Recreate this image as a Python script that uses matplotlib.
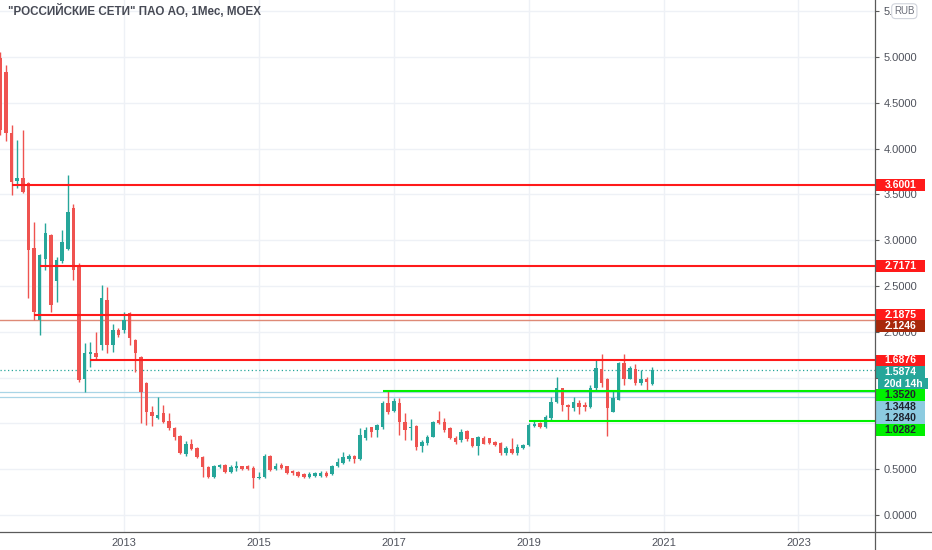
import numpy as np
import pandas as pd
import matplotlib
matplotlib.use("Agg")
import matplotlib.pyplot as plt
import matplotlib.transforms as mtransforms
from matplotlib.lines import Line2D
from matplotlib.patches import Rectangle

plt.rcParams['font.family'] = ['Liberation Sans', 'DejaVu Sans']

# monthly candles, Mar 2011 .. Nov 2020
months = pd.date_range("2011-03-01", "2020-11-01", freq="MS")
opens = [4.99, 4.84, 4.17, 3.65, 3.68, 3.62, 2.91, 2.13, 2.80, 3.06,
         2.55, 2.77, 2.90, 3.35, 2.73, 1.49, 1.76, 1.77, 1.856, 2.35, 1.856, 2.02,
         2.02, 2.21, 1.91, 1.73, 1.44, 1.125, 1.06, 1.11, 1.03, 0.95, 0.86, 0.67,
         0.775, 0.73, 0.63, 0.525, 0.41, 0.52, 0.545, 0.47, 0.51, 0.53, 0.53, 0.51,
         0.40, 0.41, 0.645, 0.50, 0.545, 0.53, 0.48, 0.47, 0.45, 0.42, 0.43, 0.43,
         0.46, 0.45, 0.53, 0.57, 0.61, 0.64, 0.61, 0.84, 0.96, 0.93, 0.96, 1.22,
         1.14, 1.22, 1.02, 0.95, 0.97, 0.75, 0.79, 0.855, 1.035, 1.02, 0.95, 0.84,
         0.82, 0.917, 0.837, 0.753, 0.845, 0.837, 0.80, 0.79, 0.68, 0.725, 0.675, 0.73,
         0.765, 0.975, 1.00, 0.965, 1.055, 1.237, 1.383, 1.20, 1.165, 1.226, 1.20, 1.183,
         1.383, 1.59, 1.49, 1.128, 1.255, 1.656, 1.49, 1.59, 1.445, 1.49, 1.43]
highs = [5.05, 4.91, 4.26, 4.09, 4.20, 3.64, 3.20, 2.85, 3.19, 3.07,
         2.82, 3.11, 3.71, 3.40, 2.75, 1.875, 1.89, 2.00, 2.51, 2.49, 2.09, 2.04,
         2.22, 2.22, 1.92, 1.74, 1.45, 1.19, 1.29, 1.20, 1.11, 0.96, 0.87, 0.81,
         0.83, 0.74, 0.64, 0.53, 0.545, 0.56, 0.56, 0.55, 0.59, 0.54, 0.55, 0.53,
         0.47, 0.67, 0.66, 0.57, 0.57, 0.535, 0.49, 0.48, 0.455, 0.47, 0.47, 0.48,
         0.48, 0.545, 0.62, 0.69, 0.67, 0.65, 0.95, 0.965, 0.96, 0.99, 1.24, 1.35,
         1.28, 1.28, 1.11, 1.05, 0.98, 0.82, 0.875, 1.03, 1.13, 1.06, 0.96, 0.86,
         0.935, 0.925, 0.84, 0.86, 0.86, 0.845, 0.81, 0.795, 0.75, 0.84, 0.77, 0.78,
         1.00, 1.04, 1.01, 1.09, 1.29, 1.51, 1.39, 1.21, 1.29, 1.26, 1.23, 1.42,
         1.70, 1.757, 1.50, 1.365, 1.665, 1.757, 1.627, 1.65, 1.58, 1.51, 1.62]
lows = [4.15, 4.08, 3.49, 3.57, 3.51, 2.37, 2.13, 1.97, 2.67, 2.22,
        2.33, 2.75, 2.89, 2.565, 1.45, 1.345, 1.62, 1.69, 1.80, 1.77, 1.78, 1.94,
        1.99, 1.86, 1.565, 1.00, 0.98, 0.97, 1.05, 1.00, 0.93, 0.82, 0.67, 0.645,
        0.71, 0.62, 0.41, 0.40, 0.40, 0.51, 0.46, 0.46, 0.48, 0.49, 0.49, 0.29,
        0.39, 0.40, 0.48, 0.49, 0.50, 0.45, 0.44, 0.41, 0.40, 0.40, 0.42, 0.41,
        0.42, 0.44, 0.52, 0.56, 0.59, 0.57, 0.60, 0.82, 0.85, 0.855, 0.94, 1.105,
        1.12, 0.87, 0.82, 0.82, 0.71, 0.69, 0.76, 0.85, 0.99, 0.91, 0.83, 0.78,
        0.80, 0.81, 0.74, 0.655, 0.77, 0.78, 0.75, 0.655, 0.655, 0.665, 0.66, 0.72,
        0.75, 0.96, 0.95, 0.95, 1.04, 1.22, 1.14, 1.04, 1.14, 1.10, 1.14, 1.165,
        1.37, 1.40, 0.86, 1.12, 1.25, 1.42, 1.48, 1.42, 1.42, 1.357, 1.42]
closes = [4.20, 4.17, 3.64, 3.68, 3.53, 2.89, 2.22, 2.84, 3.08, 2.29,
          2.78, 2.98, 3.31, 2.67, 1.47, 1.765, 1.78, 1.72, 2.366, 1.856, 2.02, 1.965,
          2.13, 1.93, 1.765, 1.345, 1.125, 1.08, 1.09, 1.02, 0.95, 0.85, 0.68, 0.775,
          0.72, 0.63, 0.52, 0.41, 0.54, 0.545, 0.47, 0.52, 0.53, 0.50, 0.50, 0.40,
          0.42, 0.64, 0.49, 0.53, 0.51, 0.46, 0.46, 0.43, 0.42, 0.45, 0.46, 0.46,
          0.43, 0.535, 0.58, 0.63, 0.645, 0.61, 0.875, 0.93, 0.905, 0.98, 1.22, 1.125,
          1.24, 1.01, 0.93, 0.965, 0.745, 0.80, 0.855, 1.02, 1.00, 0.93, 0.84, 0.80,
          0.91, 0.826, 0.753, 0.855, 0.78, 0.79, 0.765, 0.675, 0.73, 0.675, 0.745, 0.765,
          0.98, 0.99, 0.96, 1.067, 1.237, 1.383, 1.20, 1.18, 1.237, 1.18, 1.183, 1.383,
          1.60, 1.44, 1.165, 1.274, 1.656, 1.49, 1.60, 1.445, 1.48, 1.455, 1.5874]

# drawn levels
red_levels = [3.6001, 2.7171, 2.1875, 1.6876]
red_starts = ["2011-05", "2011-10", "2011-09", "2012-07"]
green_levels = [1.3520, 1.0282]
green_starts = ["2016-11", "2019-01"]
blue_levels = [1.3448, 1.2840]
brown_level = 2.1246
countdown = "20d 14h"

title = '"РОССИЙСКИЕ СЕТИ" ПАО АО, 1Мес, MOEX'
year_ticks = [2013, 2015, 2017, 2019, 2021, 2023]

UP = "#26a69a"
DOWN = "#ef5350"
RED = "#ff1a1a"
LIME = "#00f000"
LBLUE = "#8ccbe0"
BROWN = "#a8290b"
GRID = "#eef1f6"
AX = "#5a5a5a"


def to_year(d):
    d = pd.Timestamp(d)
    return d.year + (d.month - 1) / 12.0


x = np.array([to_year(d) for d in months])
o = np.array(opens); h = np.array(highs); l = np.array(lows); c = np.array(closes)
up = c >= o
cols = np.where(up, UP, DOWN)

fig = plt.figure(figsize=(9.32, 5.5), dpi=100, facecolor="w")
ax = fig.add_axes([0, 18 / 550, 875 / 932, 532 / 550])
x0, x1 = 2011.161, 2024.136
ax.set_xlim(x0, x1)
ax.set_ylim(-0.1856, 5.622)

# candles
ax.vlines(x, l, h, colors=cols, lw=1.0, zorder=3)
body_lo = np.minimum(o, c)
body_h = np.maximum(np.abs(c - o), 0.012)
ax.bar(x, body_h, bottom=body_lo, width=0.62 / 12, color=cols, linewidth=0, zorder=4)

# horizontal levels
for lv, st in zip(red_levels, red_starts):
    ax.hlines(lv, to_year(st), x1, colors=RED, lw=1.5, zorder=5)
for lv, st in zip(green_levels, green_starts):
    ax.hlines(lv, to_year(st), x1, colors=LIME, lw=1.5, zorder=5)
for lv in blue_levels:
    ax.axhline(lv, color="#a9d5e6", lw=0.9, zorder=2)
ax.axhline(brown_level, color="#de8a76", lw=1.0, zorder=2)
ax.axhline(closes[-1], color=UP, lw=0.9, ls=(0, (1, 2)), zorder=2)

# grid / ticks
ax.set_yticks(np.arange(0, 5.51, 0.5))
ax.yaxis.set_major_formatter(plt.FormatStrFormatter("%.4f"))
ax.set_xticks(year_ticks)
ax.set_xticklabels([str(t) for t in year_ticks])
ax.yaxis.tick_right()
ax.tick_params(axis="y", length=3, width=0.8, color=AX, pad=3, labelsize=8, labelcolor="#4f525c")
ax.tick_params(axis="x", length=0, pad=4, labelsize=8, labelcolor="#4f525c")
ax.grid(True, color=GRID, lw=1.0)
for s in ax.spines.values():
    s.set_visible(False)

fig.add_artist(Line2D([0, 1], [18 / 550, 18 / 550], transform=fig.transFigure, color=AX, lw=0.9))
fig.add_artist(Line2D([875 / 932, 875 / 932], [0, 1], transform=fig.transFigure, color=AX, lw=0.9))

# price labels on the scale
labels = [(red_levels[0], "%.4f" % red_levels[0], RED, "w"),
          (red_levels[1], "%.4f" % red_levels[1], RED, "w"),
          (red_levels[2], "%.4f" % red_levels[2], RED, "w"),
          (brown_level, "%.4f" % brown_level, BROWN, "w"),
          (red_levels[3], "%.4f" % red_levels[3], RED, "w"),
          (closes[-1], "%.4f" % closes[-1], UP, "w"),
          (closes[-1], countdown, UP, "w"),
          (green_levels[0], "%.4f" % green_levels[0], LIME, "#1e222d"),
          (blue_levels[0], "%.4f" % blue_levels[0], LBLUE, "#1e222d"),
          (blue_levels[1], "%.4f" % blue_levels[1], LBLUE, "#1e222d"),
          (green_levels[1], "%.4f" % green_levels[1], LIME, "#1e222d")]

trans = mtransforms.blended_transform_factory(ax.transAxes, ax.transData)
step = 11.6 / 91.6
prev = None
for val, txt, fc, tc in labels:
    yc = val if prev is None else min(val, prev - step)
    prev = yc
    xs, w = (1.001, 0.056) if txt != countdown else (1.0034, 0.0572)
    ax.add_patch(Rectangle((xs, yc - step / 2), w, step, transform=trans,
                           facecolor=fc, edgecolor="none", clip_on=False, zorder=10))
    ax.text(xs + w / 2, yc, txt, transform=trans, ha="center", va="center",
            fontsize=7.5, fontweight="bold", color=tc, zorder=11, clip_on=False)

# currency badge
ax.text(1.0335, 5.5, "RUB", transform=trans, ha="center", va="center", fontsize=7,
        color="#6a6d78", zorder=11, clip_on=False,
        bbox=dict(boxstyle="round,pad=0.25,rounding_size=0.4", fc="w", ec="#d1d4dc", lw=0.8))

ax.text(0.009, 0.979, title, transform=ax.transAxes, ha="left", va="center",
        fontsize=8.4, fontweight="bold", color="#474a55", zorder=12)

fig.savefig("out.png", dpi=100, facecolor="w")
